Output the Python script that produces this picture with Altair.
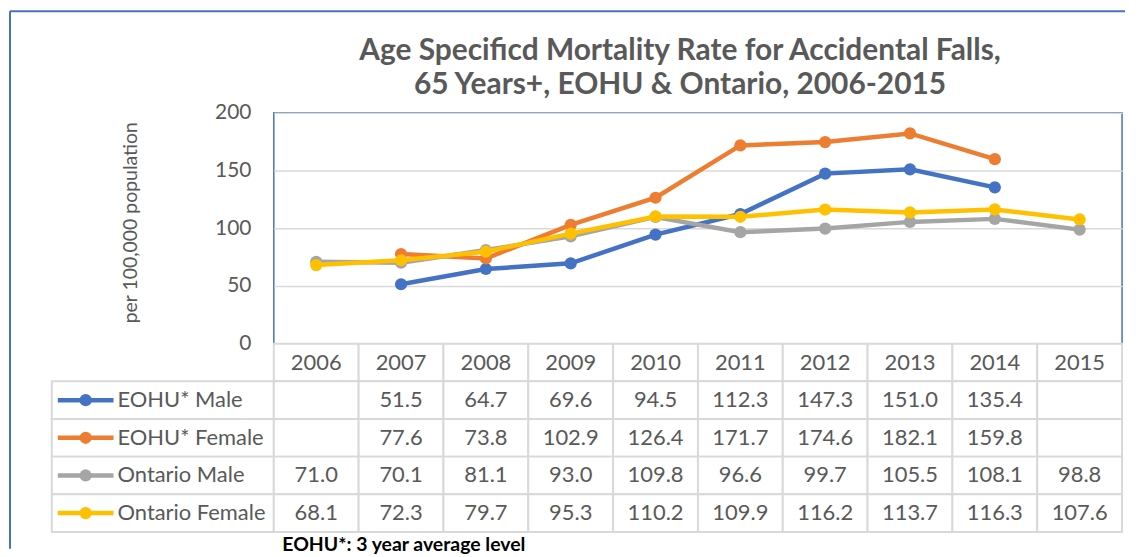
import altair as alt
import pandas as pd

years = ["2006", "2007", "2008", "2009", "2010", "2011", "2012", "2013", "2014", "2015"]
series = ["EOHU* Male", "EOHU* Female", "Ontario Male", "Ontario Female"]
eohu_male = [None, 51.5, 64.7, 69.6, 94.5, 112.3, 147.3, 151.0, 135.4, None]
eohu_female = [None, 77.6, 73.8, 102.9, 126.4, 171.7, 174.6, 182.1, 159.8, None]
ontario_male = [71.0, 70.1, 81.1, 93.0, 109.8, 96.6, 99.7, 105.5, 108.1, 98.8]
ontario_female = [68.1, 72.3, 79.7, 95.3, 110.2, 109.9, 116.2, 113.7, 116.3, 107.6]
colors = ["#4472C4", "#ED7D31", "#A5A5A5", "#FFC000"]
y_ticks = [0, 50, 100, 150, 200]
title_lines = ["Age Specificd Mortality Rate for Accidental Falls,",
               "65 Years+, EOHU & Ontario, 2006-2015"]
y_title = "per 100,000 population"
footnote = "EOHU*: 3 year average level"

TEXT = "#595959"
GRID = "#D9D9D9"
FRAME = "#4472C4"
FONT = "Lato"

values_by_series = [eohu_male, eohu_female, ontario_male, ontario_female]
rows = []
for s, vals in zip(series, values_by_series):
    for yr, v in zip(years, vals):
        rows.append({"series": s, "year": yr, "value": v})
df = pd.DataFrame(rows)

W_LABEL = 223
W_PLOT = 852
H_PLOT = 232
H_TABLE = 189

# ---------- line chart ----------
x_line = alt.X("year:O", scale=alt.Scale(domain=years, type="point", padding=0.5), axis=None)
y_line = alt.Y("value:Q", scale=alt.Scale(domain=[0, 200], nice=False, zero=True),
               axis=alt.Axis(values=y_ticks, title=y_title, ticks=False, domain=False,
                             labelFontSize=21, labelColor=TEXT, labelPadding=23,
                             titleFontSize=19.5, titleFontWeight="normal", titleColor=TEXT,
                             titlePadding=74, titleY=110, grid=True, gridColor=GRID, gridWidth=1.5))
layers = []
for s, c in zip(series, colors):
    base = alt.Chart(df).transform_filter(alt.datum.series == s).transform_filter("isValid(datum.value)")
    layers.append(base.mark_line(color=c, strokeWidth=4.5).encode(x=x_line, y=y_line))
    layers.append(base.mark_point(color=c, filled=True, size=150, opacity=1).encode(x=x_line, y=y_line))

line_chart = alt.layer(*layers).properties(
    width=W_PLOT, height=H_PLOT,
    view=alt.ViewBackground(stroke=FRAME, strokeWidth=1.5),
    title=alt.Title(title_lines, fontSize=30, fontWeight="bold", color=TEXT, lineHeight=34,
                    anchor="middle", dx=-18, offset=2),
)

# ---------- spacer (also carries the outer chart-area frame) ----------
one = pd.DataFrame({"v": [0]})
frame_top = alt.Chart(one).mark_rule(color=FRAME, strokeWidth=2).encode(
    x=alt.value(-42), x2=alt.value(1078), y=alt.value(-102))
frame_left = alt.Chart(one).mark_rule(color=FRAME, strokeWidth=2).encode(
    x=alt.value(-42), y=alt.value(-102), y2=alt.value(438))
spacer = alt.layer(frame_top, frame_left).properties(width=W_LABEL, height=H_PLOT)

# ---------- value table ----------
row_domain = [" "] + series
grid_rows = []
for r in row_domain:
    for yr in years:
        grid_rows.append({"row": r, "year": yr})
grid_df = pd.DataFrame(grid_rows)
hdr_df = pd.DataFrame({"year": years, "row": [" "] * len(years)})

x_tbl = alt.X("year:N", scale=alt.Scale(domain=years, type="band", paddingInner=0, paddingOuter=0),
              axis=alt.Axis(labels=False, ticks=False, domain=False, title=footnote,
                            titleFontSize=19.5, titleFontWeight="bold", titleColor="#000000",
                            titleAlign="left", titleX=8, titleY=13, titleBaseline="middle"))
band_rows = alt.Scale(domain=row_domain, type="band", paddingInner=0, paddingOuter=0)
y_tbl = alt.Y("row:N", scale=band_rows, axis=None)

cells = alt.Chart(grid_df).mark_rect(fill="white", stroke=GRID, strokeWidth=2).encode(x=x_tbl, y=y_tbl)
hdr_text = alt.Chart(hdr_df).mark_text(fontSize=22, color=TEXT).encode(x=x_tbl, y=y_tbl, text="year:N")
val_text = alt.Chart(df).transform_filter("isValid(datum.value)").mark_text(fontSize=22, color=TEXT).encode(
    x=x_tbl, y=alt.Y("series:N", scale=band_rows, axis=None),
    text=alt.Text("value:Q", format=".1f"))
value_table = alt.layer(cells, hdr_text, val_text).properties(width=W_PLOT, height=H_TABLE)

# ---------- label table ----------
lab_df = pd.DataFrame({"row": series, "col": ["lab"] * len(series)})
y_lab = alt.Y("row:N", scale=band_rows, axis=None)
color_enc = alt.Color("row:N", scale=alt.Scale(domain=series, range=colors), legend=None)
lab_cells = alt.Chart(lab_df).mark_rect(fill="white", stroke=GRID, strokeWidth=2).encode(
    x=alt.X("col:N", scale=alt.Scale(type="band", paddingInner=0, paddingOuter=0), axis=None), y=y_lab)
swatch_line = alt.Chart(lab_df).mark_rule(strokeWidth=4.5).encode(
    x=alt.value(6), x2=alt.value(62), y=y_lab, color=color_enc)
swatch_dot = alt.Chart(lab_df).mark_point(filled=True, size=150, opacity=1).encode(
    x=alt.value(34), y=y_lab, color=color_enc)
lab_text = alt.Chart(lab_df).mark_text(fontSize=22, color=TEXT, align="left").encode(
    x=alt.value(66), y=y_lab, text="row:N")
label_table = alt.layer(lab_cells, swatch_line, swatch_dot, lab_text).properties(width=W_LABEL, height=H_TABLE)

chart = alt.concat(spacer, line_chart, label_table, value_table, columns=2, spacing=0, bounds="flush").properties(
    padding={"left": 0, "top": 0, "right": 5, "bottom": 0}
).configure(font=FONT).configure_view(stroke="transparent")

chart.save("out.html", embed_options={"renderer": "svg", "actions": False})
